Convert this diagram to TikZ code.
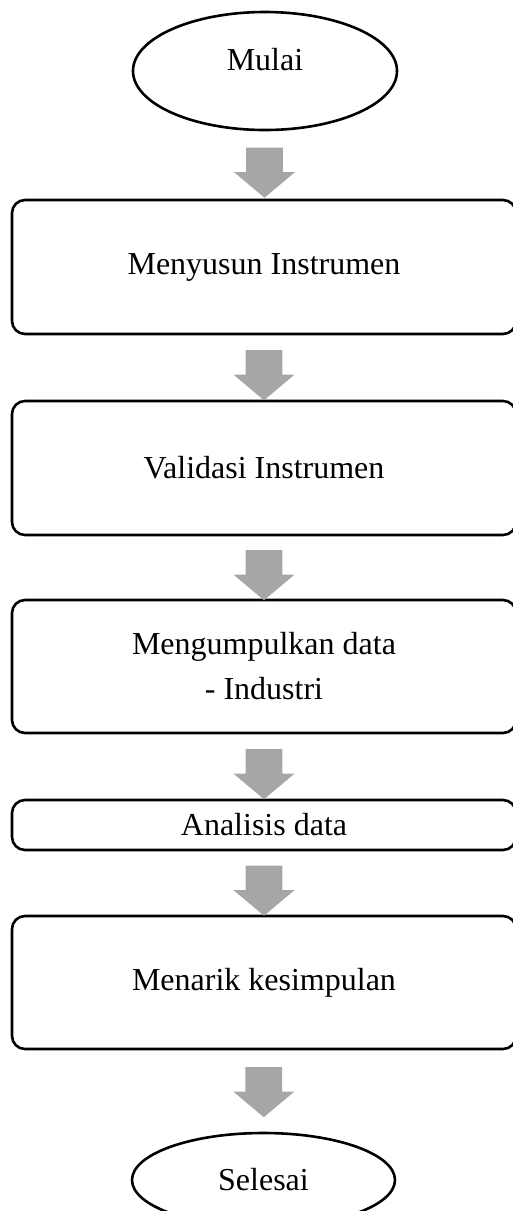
\documentclass[tikz,border=0pt]{standalone}
\usepackage{fontspec}
\setmainfont{Liberation Serif}
\usepackage{tikz}
\usetikzlibrary{shapes.geometric, shapes.arrows, calc, positioning}
\tikzset{
    stepbox/.style={rectangle, rounded corners=6.5pt, draw=black, line width=1.3pt,
        minimum width=252pt, text centered, align=center, font=\fontsize{16}{22.5}\selectfont},
    endbox/.style={ellipse, draw=black, line width=1.3pt, inner sep=0pt,
        text centered, font=\fontsize{16}{22.5}\selectfont},
    panahbox/.style={single arrow, draw=none, fill=black!35, rotate=-90,
        minimum height=25pt, minimum width=30pt, inner xsep=0pt, inner ysep=9pt,
        single arrow head extend=6pt, single arrow tip angle=100, single arrow head indent=0pt},
}
\begin{document}
\begin{tikzpicture}[x=0.5pt, y=-0.5pt]
    \useasboundingbox (0,0) rectangle (513,1211);
    % terminal dan langkah
    \node[endbox, minimum width=132pt, minimum height=59pt, text height=11pt, text depth=12pt] (mulai) at (265,71) {Mulai};
    \node[stepbox, minimum height=67pt] (menyusun) at (264,267) {Menyusun Instrumen};
    \node[stepbox, minimum height=67pt] (validasi) at (264,468) {Validasi Instrumen};
    \node[stepbox, minimum height=66.5pt] (mengumpulkan) at (264,666.5) {Mengumpulkan data\\- Industri};
    \node[stepbox, minimum height=25pt] (analisis) at (264,825) {Analisis data};
    \node[stepbox, minimum height=66.5pt] (menarik) at (264,982.5) {Menarik kesimpulan};
    \node[endbox, minimum width=131.5pt, minimum height=47pt] (selesai) at (263.5,1180) {Selesai};
    % panah blok
    \node[panahbox] (p1) at ($(mulai.south)!0.5!(menyusun.north)$) {};
    \node[panahbox] (p2) at ($(menyusun.south)!0.5!(validasi.north)$) {};
    \node[panahbox] (p3) at ($(validasi.south)!0.5!(mengumpulkan.north)$) {};
    \node[panahbox] (p4) at ($(mengumpulkan.south)!0.5!(analisis.north)$) {};
    \node[panahbox] (p5) at ($(analisis.south)!0.5!(menarik.north)$) {};
    \node[panahbox] (p6) at ($(menarik.south)!0.42!(selesai.north)$) {};
\end{tikzpicture}
\end{document}
